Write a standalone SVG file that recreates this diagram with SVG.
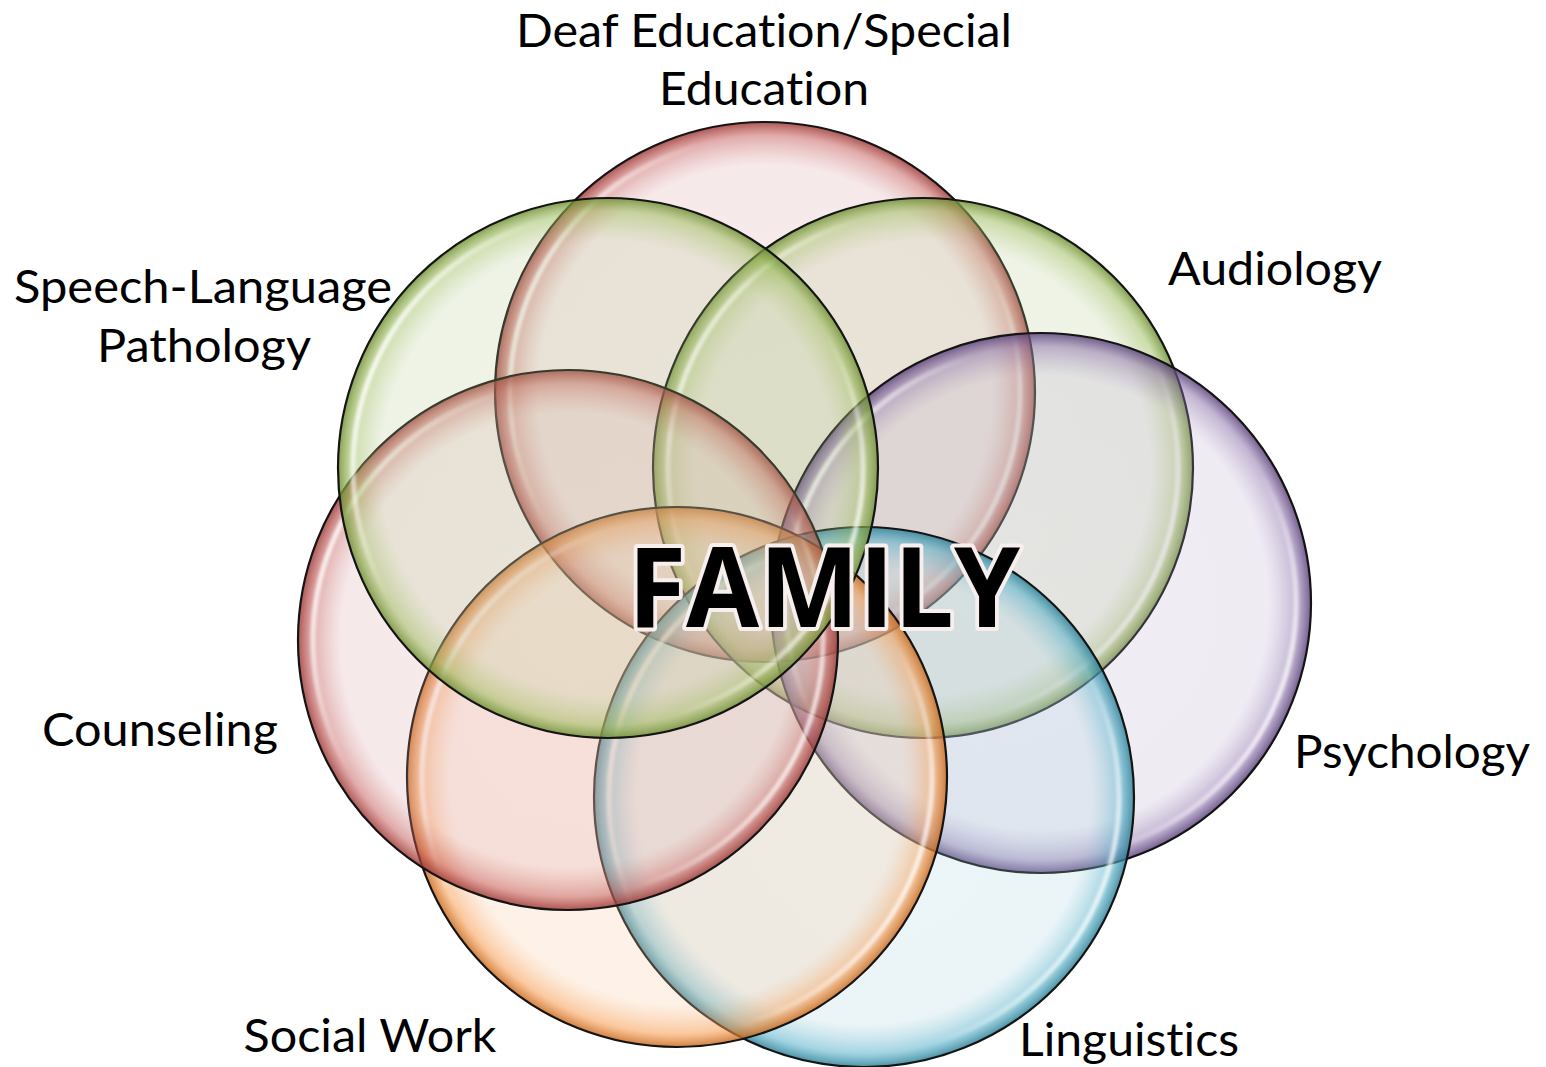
<svg xmlns="http://www.w3.org/2000/svg" width="1546" height="1067" viewBox="0 0 1546 1067">
  <style>
    .label { font-family: Lato, "Open Sans", sans-serif; font-size: 47px; fill: #000; text-anchor: middle; font-variant-ligatures: none; font-feature-settings: "liga" 0, "dlig" 0; }
    .title { font-family: "Open Sans", "Noto Sans", sans-serif; font-size: 112px; font-weight: 700; fill: #000; stroke: #f7eeee; stroke-width: 8; stroke-linejoin: round; paint-order: stroke; text-anchor: middle; }
    .outline { fill: none; stroke: #141414; stroke-width: 2.2; }
    .shine { fill: none; stroke: url(#shine); stroke-width: 5; filter: url(#soft); }
  </style>
  <defs>
    <filter id="soft" x="-10%" y="-10%" width="120%" height="120%">
      <feGaussianBlur stdDeviation="1.8"/>
    </filter>
    <!-- glossy highlight along the upper-left and lower-right inner rim -->
    <linearGradient id="shine" x1="0" y1="0.3" x2="1" y2="0.7">
      <stop offset="0" stop-color="#fff" stop-opacity="0.95"/>
      <stop offset="0.22" stop-color="#fff" stop-opacity="0"/>
      <stop offset="0.78" stop-color="#fff" stop-opacity="0"/>
      <stop offset="1" stop-color="#fff" stop-opacity="0.85"/>
    </linearGradient>
    <radialGradient id="gRed" cx="50%" cy="50%" r="50%">
      <stop offset="0" stop-color="#d99ca1" stop-opacity="0.2"/>
      <stop offset="0.84" stop-color="#d99ca1" stop-opacity="0.22"/>
      <stop offset="0.95" stop-color="#c0504d" stop-opacity="0.48"/>
      <stop offset="1" stop-color="#9c3a38" stop-opacity="0.85"/>
    </radialGradient>
    <radialGradient id="gGreen" cx="50%" cy="50%" r="50%">
      <stop offset="0" stop-color="#b3c98c" stop-opacity="0.2"/>
      <stop offset="0.84" stop-color="#b3c98c" stop-opacity="0.22"/>
      <stop offset="0.95" stop-color="#9bbb59" stop-opacity="0.52"/>
      <stop offset="1" stop-color="#6f8f35" stop-opacity="0.85"/>
    </radialGradient>
    <radialGradient id="gPurple" cx="50%" cy="50%" r="50%">
      <stop offset="0" stop-color="#b7a6cb" stop-opacity="0.2"/>
      <stop offset="0.84" stop-color="#b7a6cb" stop-opacity="0.22"/>
      <stop offset="0.95" stop-color="#8064a2" stop-opacity="0.48"/>
      <stop offset="1" stop-color="#5a4279" stop-opacity="0.85"/>
    </radialGradient>
    <radialGradient id="gBlue" cx="50%" cy="50%" r="50%">
      <stop offset="0" stop-color="#a2d0de" stop-opacity="0.2"/>
      <stop offset="0.84" stop-color="#a2d0de" stop-opacity="0.22"/>
      <stop offset="0.95" stop-color="#4bacc6" stop-opacity="0.52"/>
      <stop offset="1" stop-color="#2d7f96" stop-opacity="0.85"/>
    </radialGradient>
    <radialGradient id="gOrange" cx="50%" cy="50%" r="50%">
      <stop offset="0" stop-color="#f9c59a" stop-opacity="0.22"/>
      <stop offset="0.84" stop-color="#f9c59a" stop-opacity="0.24"/>
      <stop offset="0.95" stop-color="#f79646" stop-opacity="0.52"/>
      <stop offset="1" stop-color="#c76a1e" stop-opacity="0.85"/>
    </radialGradient>
  </defs>

  <rect width="1546" height="1067" fill="#fff"/>

  <!-- discipline circles, drawn clockwise from the top -->
  <g id="deaf-education">
    <circle cx="765" cy="392" r="270" fill="url(#gRed)"/>
    <circle class="shine" cx="765" cy="392" r="255"/>
    <circle class="outline" cx="765" cy="392" r="270"/>
  </g>
  <g id="audiology">
    <circle cx="923" cy="468" r="270" fill="url(#gGreen)"/>
    <circle class="shine" cx="923" cy="468" r="255"/>
    <circle class="outline" cx="923" cy="468" r="270"/>
  </g>
  <g id="psychology">
    <circle cx="1041" cy="603" r="270" fill="url(#gPurple)"/>
    <circle class="shine" cx="1041" cy="603" r="255"/>
    <circle class="outline" cx="1041" cy="603" r="270"/>
  </g>
  <g id="linguistics">
    <circle cx="864" cy="797" r="270" fill="url(#gBlue)"/>
    <circle class="shine" cx="864" cy="797" r="255"/>
    <circle class="outline" cx="864" cy="797" r="270"/>
  </g>
  <g id="social-work">
    <circle cx="677" cy="777" r="270" fill="url(#gOrange)"/>
    <circle class="shine" cx="677" cy="777" r="255"/>
    <circle class="outline" cx="677" cy="777" r="270"/>
  </g>
  <g id="counseling">
    <circle cx="568" cy="640" r="270" fill="url(#gRed)"/>
    <circle class="shine" cx="568" cy="640" r="255"/>
    <circle class="outline" cx="568" cy="640" r="270"/>
  </g>
  <g id="speech-language">
    <circle cx="608" cy="468" r="270" fill="url(#gGreen)"/>
    <circle class="shine" cx="608" cy="468" r="255"/>
    <circle class="outline" cx="608" cy="468" r="270"/>
  </g>

  <g id="connectors"></g>

  <!-- labels -->
  <g id="labels">
    <text class="label" x="764" y="47" textLength="496" lengthAdjust="spacingAndGlyphs">Deaf Education/Special</text>
    <text class="label" x="764" y="105" textLength="210" lengthAdjust="spacingAndGlyphs">Education</text>
    <text class="label" x="1275" y="285" textLength="214" lengthAdjust="spacingAndGlyphs">Audiology</text>
    <text class="label" x="203" y="303" textLength="378" lengthAdjust="spacingAndGlyphs">Speech-Language</text>
    <text class="label" x="204" y="362" textLength="214" lengthAdjust="spacingAndGlyphs">Pathology</text>
    <text class="label" x="160" y="746" textLength="236" lengthAdjust="spacingAndGlyphs">Counseling</text>
    <text class="label" x="1412" y="768" textLength="236" lengthAdjust="spacingAndGlyphs">Psychology</text>
    <text class="label" x="370" y="1052" textLength="253" lengthAdjust="spacingAndGlyphs">Social Work</text>
    <text class="label" x="1129" y="1056" textLength="220" lengthAdjust="spacingAndGlyphs">Linguistics</text>
  </g>

  <g id="family">
    <text class="title" x="824" y="627" textLength="392" lengthAdjust="spacingAndGlyphs">FAMILY</text>
  </g>
</svg>
